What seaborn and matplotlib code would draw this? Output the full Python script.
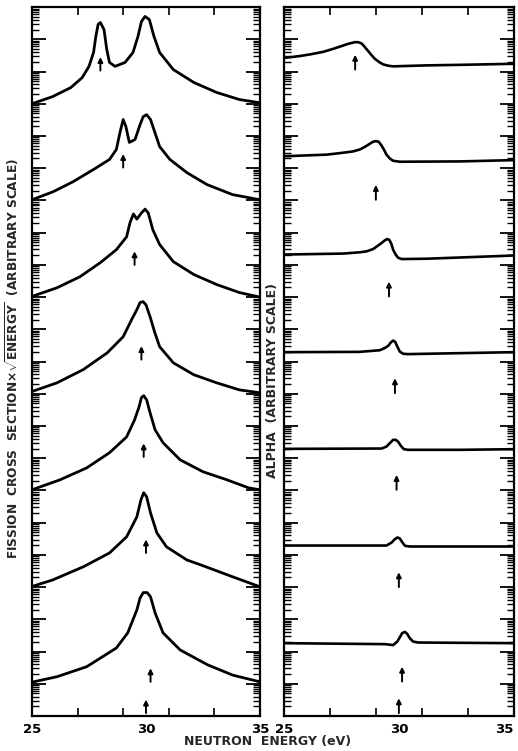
import numpy as np
import matplotlib
matplotlib.use("Agg")
import matplotlib.pyplot as plt
from matplotlib import font_manager
from matplotlib.ticker import LogLocator, NullFormatter, FixedLocator, FixedFormatter
import seaborn as sns

# Energias (eV) y alturas relativas (decadas sobre la linea base)
fis_e1 = [25.0, 25.9, 26.7, 27.2, 27.5, 27.7, 27.8, 27.9, 28.0, 28.16, 28.28, 28.4, 28.64, 29.08, 29.43, 29.65, 29.8, 29.96, 30.15, 30.35, 30.6, 31.2, 32.1, 33.1, 34.1, 35.0]
fis_r1 = [0.0, 0.22, 0.5, 0.81, 1.16, 1.59, 2.09, 2.46, 2.52, 2.3, 1.68, 1.28, 1.16, 1.28, 1.59, 2.09, 2.55, 2.71, 2.61, 2.09, 1.59, 1.06, 0.66, 0.35, 0.13, 0.03]
fis_e2 = [25.0, 25.93, 26.8, 27.7, 28.4, 28.7, 28.86, 29.0, 29.12, 29.27, 29.52, 29.74, 29.88, 30.03, 30.2, 30.39, 30.6, 31.05, 31.8, 32.68, 33.8, 35.0]
fis_r2 = [0.02, 0.27, 0.58, 0.96, 1.27, 1.58, 2.11, 2.51, 2.29, 1.80, 1.89, 2.35, 2.60, 2.66, 2.51, 2.11, 1.67, 1.27, 0.86, 0.49, 0.18, 0.02]
fis_e3 = [25.0, 26.1, 27.1, 28.0, 28.7, 29.15, 29.3, 29.45, 29.6, 29.8, 29.96, 30.1, 30.3, 30.6, 31.2, 32.1, 33.1, 34.1, 35.0]
fis_r3 = [0.02, 0.29, 0.63, 1.07, 1.47, 1.87, 2.31, 2.58, 2.42, 2.61, 2.73, 2.61, 2.09, 1.63, 1.10, 0.70, 0.39, 0.14, 0.0]
fis_e4 = [25.0, 26.1, 27.25, 28.3, 29.0, 29.37, 29.6, 29.74, 29.87, 30.0, 30.18, 30.39, 30.6, 31.2, 32.1, 33.1, 34.1, 35.0]
fis_r4 = [0.07, 0.34, 0.75, 1.27, 1.77, 2.30, 2.61, 2.83, 2.86, 2.76, 2.39, 1.89, 1.46, 0.96, 0.59, 0.34, 0.12, 0.03]
fis_e5 = [25.0, 26.23, 27.4, 28.4, 29.15, 29.5, 29.7, 29.8, 29.9, 30.03, 30.18, 30.4, 30.75, 31.5, 32.5, 33.55, 34.5, 35.0]
fis_r5 = [0.02, 0.33, 0.70, 1.17, 1.66, 2.19, 2.60, 2.88, 2.94, 2.81, 2.41, 1.88, 1.48, 0.95, 0.58, 0.33, 0.08, 0.02]
fis_e6 = [25.0, 25.9, 27.25, 28.4, 29.15, 29.6, 29.78, 29.9, 30.03, 30.2, 30.48, 30.9, 31.8, 32.4, 33.8, 35.0]
fis_r6 = [0.02, 0.22, 0.63, 1.06, 1.56, 2.18, 2.71, 2.93, 2.80, 2.30, 1.68, 1.25, 0.84, 0.69, 0.32, 0.01]
fis_e7 = [25.0, 26.1, 27.4, 28.7, 29.2, 29.6, 29.74, 29.88, 30.05, 30.2, 30.4, 30.75, 31.5, 32.7, 33.8, 35.0]
fis_r7 = [0.05, 0.22, 0.53, 1.11, 1.58, 2.29, 2.66, 2.83, 2.83, 2.70, 2.20, 1.58, 1.05, 0.59, 0.27, 0.06]
fis_base = [19, 16, 13, 10, 7, 4, 1]

alp_e1 = [25.0, 25.7, 26.13, 26.71, 27.13, 27.51, 27.8, 28.09, 28.23, 28.38, 28.52, 28.67, 28.81, 28.96, 29.15, 29.32, 29.54, 29.75, 31.2, 32.94, 35.0]
alp_r1 = [0.17, 0.23, 0.28, 0.36, 0.45, 0.54, 0.61, 0.66, 0.66, 0.62, 0.51, 0.38, 0.26, 0.14, 0.04, -0.03, -0.07, -0.09, -0.06, -0.04, -0.01]
alp_e2 = [25.0, 26.86, 27.58, 28.01, 28.3, 28.52, 28.74, 28.88, 29.0, 29.12, 29.23, 29.35, 29.46, 29.61, 29.75, 30.04, 32.65, 35.0]
alp_r2 = [0.12, 0.17, 0.23, 0.27, 0.33, 0.41, 0.51, 0.57, 0.59, 0.57, 0.47, 0.33, 0.17, 0.05, -0.02, -0.05, -0.04, 0.0]
alp_e3 = [25.0, 27.58, 28.3, 28.6, 28.88, 29.1, 29.25, 29.39, 29.49, 29.58, 29.67, 29.75, 29.86, 29.97, 30.12, 31.2, 35.0]
alp_r3 = [0.07, 0.10, 0.14, 0.17, 0.24, 0.35, 0.43, 0.51, 0.55, 0.53, 0.41, 0.22, 0.07, -0.03, -0.07, -0.06, 0.04]
alp_e4 = [25.0, 28.3, 29.17, 29.39, 29.54, 29.65, 29.75, 29.84, 29.93, 30.04, 30.19, 30.4, 32.65, 35.0]
alp_r4 = [0.04, 0.05, 0.10, 0.17, 0.24, 0.34, 0.40, 0.36, 0.22, 0.06, -0.01, -0.02, 0.01, 0.04]
alp_e5 = [25.0, 29.25, 29.46, 29.64, 29.75, 29.87, 29.97, 30.09, 30.22, 30.4, 32.65, 35.0]
alp_r5 = [0.04, 0.05, 0.11, 0.24, 0.32, 0.32, 0.26, 0.13, 0.03, 0.01, 0.01, 0.03]
alp_e6 = [25.0, 29.46, 29.68, 29.83, 29.94, 30.04, 30.16, 30.27, 30.48, 32.65, 35.0]
alp_r6 = [0.04, 0.04, 0.13, 0.24, 0.29, 0.26, 0.13, 0.03, 0.01, 0.01, 0.01]
alp_e7 = [25.0, 29.4, 29.75, 29.93, 30.04, 30.14, 30.26, 30.36, 30.48, 30.62, 30.84, 32.94, 35.0]
alp_r7 = [0.01, -0.02, -0.05, 0.06, 0.19, 0.32, 0.36, 0.30, 0.16, 0.06, 0.03, 0.02, 0.01]
alp_base = [20.25, 17.25, 14.25, 11.25, 8.25, 5.25, 2.25]

# Flechas: energia y decada del extremo inferior
fis_flecha_e = [28.0, 29.0, 29.5, 29.8, 29.9, 30.0, 30.2, 30.0]
fis_flecha_y = [20.03, 17.02, 14.0, 11.06, 8.04, 5.06, 1.06, 0.09]
alp_flecha_e = [28.1, 29.0, 29.57, 29.83, 29.9, 30.0, 30.14, 30.0]
alp_flecha_y = [20.06, 16.02, 13.02, 10.02, 7.02, 4.0, 1.07, 0.09]

ticks_x = [25, 27, 29, 30, 31, 33, 35]
rotulos_x = ["25", "", "", "30", "", "", "35"]


def elegir_fuente():
    nombres = {f.name for f in font_manager.fontManager.ttflist}
    if "Liberation Sans Narrow" in nombres:
        return "Liberation Sans Narrow"
    return "DejaVu Sans"


def preparar_eje(ax):
    ax.set_xlim(25, 35)
    ax.set_ylim(1e0, 1e22)
    # todas las marcas como principales; las decadas se alargan despues
    ax.yaxis.set_major_locator(LogLocator(base=10, subs=np.arange(1, 10), numticks=400))
    ax.yaxis.set_major_formatter(NullFormatter())
    ax.yaxis.set_minor_locator(FixedLocator([]))
    ax.xaxis.set_major_locator(FixedLocator(ticks_x))
    ax.xaxis.set_major_formatter(FixedFormatter(rotulos_x))
    ax.xaxis.set_minor_locator(FixedLocator([]))
    ax.tick_params(axis="y", which="major", direction="in", left=True, right=True,
                   length=5, width=1.0, color="black")
    ax.tick_params(axis="x", which="major", direction="in", top=True, bottom=True,
                   length=6, width=1.2, color="black", pad=5, labelsize=9.5,
                   labelcolor="black")

    locs = ax.yaxis.get_majorticklocs()
    marcas = ax.yaxis.get_major_ticks(len(locs))
    for marca, loc in zip(marcas, locs):
        decada = np.isclose(np.log10(loc), np.round(np.log10(loc)))
        tam = 10 if decada else 5
        marca.tick1line.set_markersize(tam)
        marca.tick2line.set_markersize(tam)
        if decada:
            marca.tick1line.set_markeredgewidth(1.3)
            marca.tick2line.set_markeredgewidth(1.3)

    locs_x = ax.xaxis.get_majorticklocs()
    marcas_x = ax.xaxis.get_major_ticks(len(locs_x))
    for marca, rot in zip(marcas_x, rotulos_x):
        if rot:
            marca.tick1line.set_visible(False)
            marca.tick2line.set_visible(False)
        marca.label1.set_fontweight("bold")

    for lado in ax.spines.values():
        lado.set_linewidth(1.6)
        lado.set_color("black")
    ax.set_xlabel("")
    ax.set_ylabel("")


def dibujar_curvas(ax, energias, alturas, bases, flechas_e, flechas_y, largo, grosor):
    for e, r, b in zip(energias, alturas, bases):
        y = 10 ** (np.array(r) + b)
        sns.lineplot(x=e, y=y, ax=ax, color="black", linewidth=grosor,
                     estimator=None, sort=False)
    for e, y0 in zip(flechas_e, flechas_y):
        ax.annotate("", xy=(e, 10 ** (y0 + largo)), xytext=(e, 10 ** y0),
                    arrowprops=dict(arrowstyle="-|>", color="black", lw=1.4,
                                    mutation_scale=7, shrinkA=0, shrinkB=0))


def main():
    sns.set_theme(style="ticks")
    fuente = elegir_fuente()
    plt.rcParams["font.family"] = [fuente, "DejaVu Sans"]
    plt.rcParams["font.weight"] = "bold"
    plt.rcParams["mathtext.fontset"] = "custom"
    plt.rcParams["mathtext.rm"] = fuente
    plt.rcParams["mathtext.bf"] = fuente + ":bold"

    fig = plt.figure(figsize=(5.18, 7.51), dpi=100)
    ax_f = fig.add_axes([0.0618, 0.0466, 0.440, 0.944])
    ax_a = fig.add_axes([0.548, 0.0466, 0.444, 0.944])
    for ax in (ax_f, ax_a):
        ax.set_yscale("log")

    dibujar_curvas(ax_f,
                   [fis_e1, fis_e2, fis_e3, fis_e4, fis_e5, fis_e6, fis_e7],
                   [fis_r1, fis_r2, fis_r3, fis_r4, fis_r5, fis_r6, fis_r7],
                   fis_base, fis_flecha_e, fis_flecha_y, 0.42, 2.0)
    dibujar_curvas(ax_a,
                   [alp_e1, alp_e2, alp_e3, alp_e4, alp_e5, alp_e6, alp_e7],
                   [alp_r1, alp_r2, alp_r3, alp_r4, alp_r5, alp_r6, alp_r7],
                   alp_base, alp_flecha_e, alp_flecha_y, 0.46, 1.9)

    preparar_eje(ax_f)
    preparar_eje(ax_a)

    # el ultimo rotulo del panel derecho queda pegado al borde
    ax_a.xaxis.get_major_ticks()[-1].label1.set_horizontalalignment("right")

    fig.text(0.023, 0.523,
             "FISSION  CROSS  SECTION×$\\sqrt{\\mathbf{ENERGY}}$  (ARBITRARY SCALE)",
             rotation=90, ha="center", va="center", fontsize=8.7, fontweight="bold")
    fig.text(0.527, 0.494, "ALPHA  (ARBITRARY SCALE)",
             rotation=90, ha="center", va="center", fontsize=9, fontweight="bold")
    fig.text(0.517, 0.012, "NEUTRON  ENERGY (eV)",
             ha="center", va="center", fontsize=9, fontweight="bold")

    fig.savefig("out.png", dpi=100, facecolor="white")


if __name__ == "__main__":
    main()
